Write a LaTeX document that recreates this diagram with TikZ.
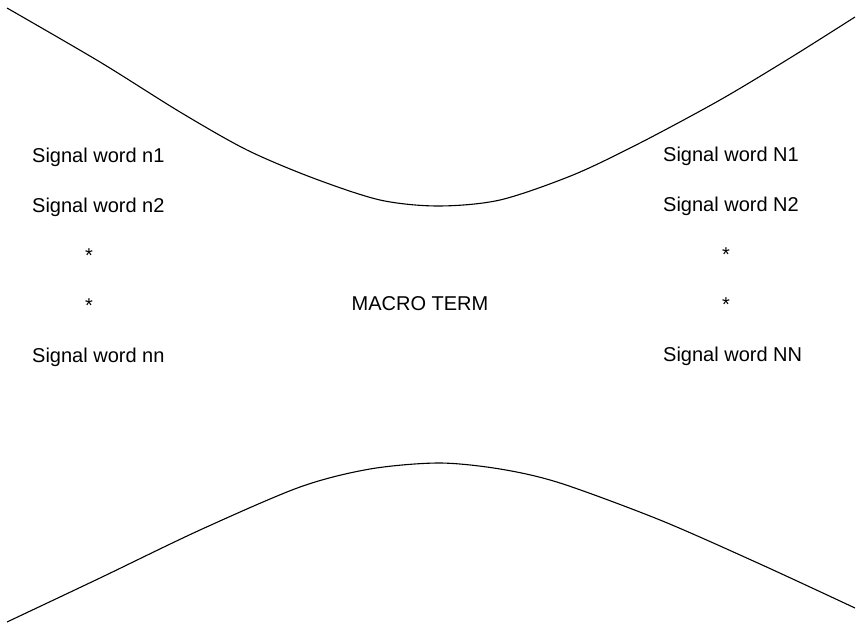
\documentclass[tikz,border=0pt]{standalone}
\usepackage{fontspec}
\setmainfont{Liberation Sans}
\begin{document}
\begin{tikzpicture}[x=1pt,y=-1pt,
  lbl/.style={font=\fontsize{20}{22}\selectfont, inner sep=0pt, anchor=base west},
  star/.style={font=\fontsize{20}{22}\selectfont, inner sep=0pt, anchor=base},
  curve/.style={line width=1.1pt, black}]
\useasboundingbox (0,0) rectangle (857,626);
\fill[white] (0,0) rectangle (857,626);
% upper curve
\draw[curve] plot[smooth, tension=0.5] coordinates
  {(7,8) (100,62) (180,112) (247,150) (313,178) (380,200) (438,206) (500,200) (573,175) (640,143) (720,100) (790,58) (855,17)};
% lower curve
\draw[curve] plot[smooth, tension=0.5] coordinates
  {(7,622) (100,578) (200,530) (300,487) (370,469) (439,463) (500,469) (560,483) (660,520) (760,564) (855,608)};
% left labels
\node[lbl] (n1) at (32,162) {Signal word n1};
\node[lbl] (n2) at (32,212) {Signal word n2};
\node[star] (s1) at (89,262) {*};
\node[star] (s2) at (89,312) {*};
\node[lbl] (nn) at (32,362) {Signal word nn};
% right labels
\node[lbl] (N1) at (663,161) {Signal word N1};
\node[lbl] (N2) at (663,211) {Signal word N2};
\node[star] (S1) at (726,261) {*};
\node[star] (S2) at (726,311) {*};
\node[lbl] (NN) at (663,361) {Signal word NN};
% center
\node[star] (macro) at (420,310) {MACRO TERM};
\end{tikzpicture}
\end{document}
